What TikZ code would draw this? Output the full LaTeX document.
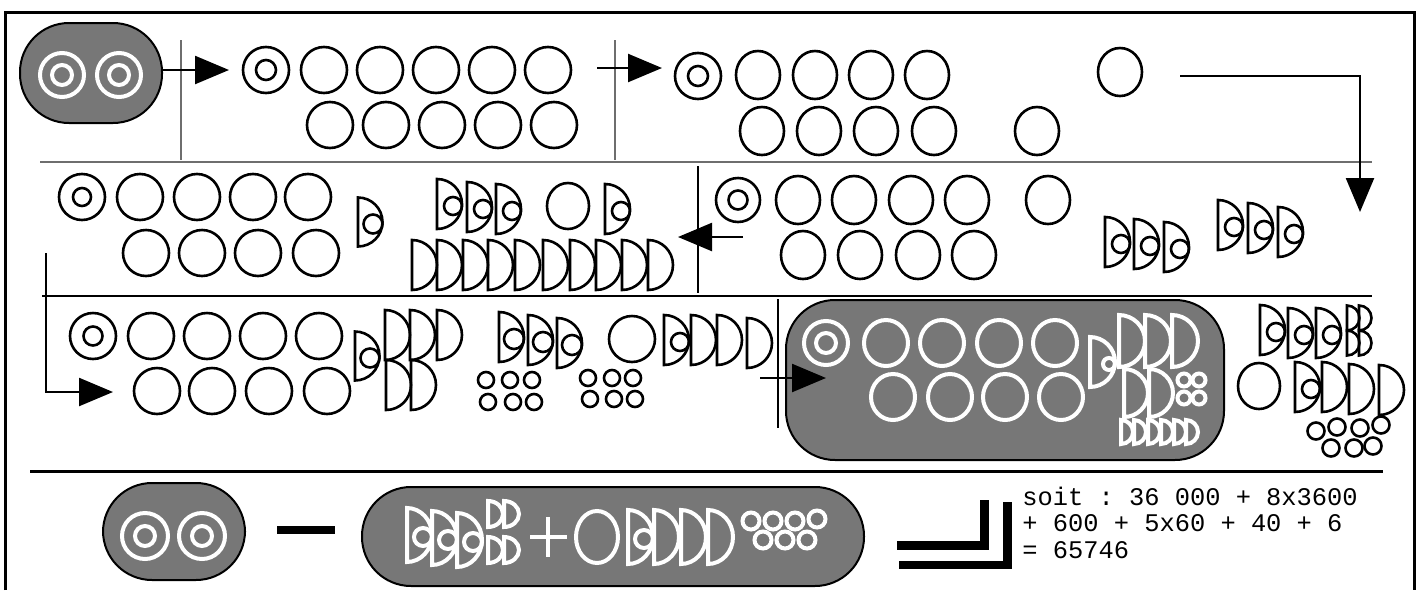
\documentclass[tikz,border=0pt]{standalone}
\usepackage{fontspec}
\setmonofont{Liberation Mono}
\usetikzlibrary{arrows.meta}
\definecolor{boxgray}{RGB}{119,119,119}
\definecolor{divgray}{RGB}{110,110,110}
\newcommand\sgD[5][]{\draw[#1] (#2,#3+#5) -- (#2,#3-#5) arc[start angle=-90,end angle=90,x radius=#4,y radius=#5] -- cycle;}
\newcommand\sgDn[6][]{\sgD[#1]{#2}{#3}{#4}{#5}\draw[#1] (#2+#4-#6,#3+2) circle[radius=#6];}
\newcommand\sgC[4][]{\draw[#1] (#2,#3) circle[radius=#4];}
\newcommand\sgE[5][]{\draw[#1] (#2,#3) ellipse[x radius=#4,y radius=#5];}
\newcommand\sgR[5][]{\draw[#1] (#2,#3) circle[radius=#4] (#2,#3) circle[radius=#5];}
\tikzset{
  sg/.style={line width=1.3pt,black},
  wsg/.style={line width=2pt,white},
  divline/.style={line width=0.8pt,divgray},
  grbox/.style={fill=boxgray,draw=black,line width=1pt,rounded corners=24.5pt},
  conn/.style={line width=1.2pt,-{Triangle[length=17pt,width=14pt]}},
  blk/.style={fill=black,draw=none}
}
\begin{document}
\begin{tikzpicture}[x=0.5pt,y=-0.5pt]
\useasboundingbox (0,0) rectangle (1420,590);
% frame
\draw[line width=1.5pt] (5,590) -- (5,12) -- (1414,12) -- (1414,590);
% dividers
\draw[divline] (40,162) -- (1372,162);
\draw[line width=0.8pt] (42,296) -- (1372,296);
\draw[line width=1.5pt] (30,471) -- (1383,471);
\draw[divline] (181,40) -- (181,160);
\draw[divline] (615,40) -- (615,160);
\draw[line width=0.8pt] (698,166) -- (698,293);
\draw[line width=0.8pt] (778,299) -- (778,428);
% ---------- Row 1 ----------
\draw[grbox] (20,23) rectangle (162,123);
\sgR[wsg]{62}{75}{22}{10}
\sgR[wsg]{119}{75}{22}{10}
\coordinate (a1s) at (162,70); \coordinate (a1e) at (229,70);
\draw[conn] (a1s) -- (a1e);
\sgR[sg]{266}{70}{23}{10}
\foreach \x in {324,380,436,492,548} {\sgC[sg]{\x}{70}{23}}
\foreach \x in {330,386,442,498,554} {\sgC[sg]{\x}{125}{23}}
\coordinate (a2s) at (597,68); \coordinate (a2e) at (662,68);
\draw[conn] (a2s) -- (a2e);
\sgR[sg]{698}{76}{23}{10}
\foreach \x in {758,815,871,927} {\sgE[sg]{\x}{75}{22}{24}}
\foreach \x in {762,819,876,934,1037} {\sgE[sg]{\x}{131}{22}{24}}
\sgE[sg]{1120}{72}{22}{24}
\coordinate (a3s) at (1180,76); \coordinate (a3e) at (1360,212);
\draw[conn] (a3s) -| (a3e);
% ---------- Row 2 ----------
\sgR[sg]{82}{197}{23}{9}
\foreach \x in {140,197,253,308} {\sgC[sg]{\x}{197}{23}}
\foreach \x in {146,202,258,316} {\sgC[sg]{\x}{253}{23}}
\sgDn[sg]{358}{222}{24.5}{24.5}{9.5}
\sgDn[sg]{437}{204}{25}{25}{9}
\sgDn[sg]{467}{207}{25}{25}{9}
\sgDn[sg]{496}{209}{25}{25}{9}
\sgE[sg]{568}{206}{21}{23}
\sgDn[sg]{605}{209}{25}{25}{9}
\foreach \x in {412,437,463,488,515,543,570,596,622,648} {\sgD[sg]{\x}{265}{25}{25}}
\coordinate (a4s) at (743,237); \coordinate (a4e) at (678,237);
\draw[conn] (a4s) -- (a4e);
\sgR[sg]{738}{200}{22}{9.5}
\foreach \x in {798,854,911,967,1048} {\sgE[sg]{\x}{200}{22}{24}}
\foreach \x in {803,860,918,974} {\sgE[sg]{\x}{255}{22}{24}}
\sgDn[sg]{1105}{242}{25}{25}{9}
\sgDn[sg]{1134}{244}{25}{25}{9}
\sgDn[sg]{1164}{247}{25}{25}{9}
\sgDn[sg]{1218}{225}{25}{25}{9}
\sgDn[sg]{1248}{228}{25}{25}{9}
\sgDn[sg]{1278}{232}{25}{25}{9}
\coordinate (a5s) at (46,253); \coordinate (a5e) at (113,392);
\draw[conn] (a5s) |- (a5e);
% ---------- Row 3 ----------
\sgR[sg]{93}{336}{23}{9.5}
\foreach \x in {151,207,263,319} {\sgC[sg]{\x}{336}{23}}
\foreach \x in {157,212,269,327} {\sgC[sg]{\x}{391}{23}}
\sgDn[sg]{355}{356}{24.5}{24.5}{9.5}
\foreach \x in {385,410,437} {\sgD[sg]{\x}{335}{25}{25}}
\foreach \x in {386,411} {\sgD[sg]{\x}{385}{25}{25}}
\sgDn[sg]{499}{337}{25}{25}{10}
\sgDn[sg]{528}{340}{25}{25}{10}
\sgDn[sg]{557}{343}{25}{25}{10}
\foreach \x/\y in {486/380,510/380,532/380,488/402,513/402,534/402,588/378,612/378,633/378,590/399,614/399,635/399} {\sgC[sg]{\x}{\y}{8}}
\sgC[sg]{632}{339}{23}
\sgDn[sg]{664}{340}{25}{25}{9}
\foreach \x/\y in {691/340,717/340,747/343} {\sgD[sg]{\x}{\y}{25}{25}}
\coordinate (a6s) at (760,378); \coordinate (a6e) at (826,378);
\draw[grbox] (786,300) rectangle (1224,460);
\draw[conn] (a6s) -- (a6e);
\sgR[wsg]{826}{343}{22}{10}
\foreach \x in {886,942,999,1055} {\sgE[wsg]{\x}{343}{22}{23}}
\foreach \x in {893,950,1005,1061} {\sgE[wsg]{\x}{397}{22}{23}}
\sgDn[wsg]{1090}{362}{25}{25}{6}
\foreach \x in {1119,1145,1172} {\sgD[wsg]{\x}{341}{26}{26}}
\foreach \x in {1124,1149} {\sgD[wsg]{\x}{393}{24}{24}}
\foreach \x/\y in {1184/380,1199/380,1184/398,1199/398} {\sgC[wsg]{\x}{\y}{6.5}}
\foreach \x in {1121,1134,1148,1161,1174,1186} {\sgD[wsg]{\x}{432}{12}{12}}
\sgDn[sg]{1260}{330}{25}{25}{9}
\sgDn[sg]{1288}{333}{25}{25}{9}
\sgDn[sg]{1316}{333}{25}{25}{9}
\foreach \x/\y in {1347/318,1359/318,1347/343,1359/343} {\sgD[sg]{\x}{\y}{12.5}{12.5}}
\sgE[sg]{1259}{386}{21}{23}
\sgDn[sg]{1295}{387}{25}{25}{9}
\foreach \x/\y in {1322/387,1349/389,1379/390} {\sgD[sg]{\x}{\y}{25}{25}}
\foreach \x/\y in {1316/431,1337/427,1360/428,1381/425,1331/448,1354/448,1373/446} {\sgC[sg]{\x}{\y}{8.5}}
% ---------- Row 4 ----------
\draw[grbox] (103,483) rectangle (245,580);
\sgR[wsg]{145}{536}{23}{10}
\sgR[wsg]{202}{536}{23}{10}
\fill[blk] (277,526) rectangle (335,534);
\draw[grbox] (362,487) rectangle (864,586);
\sgDn[wsg]{407}{535}{25}{27}{9}
\sgDn[wsg]{432}{538}{25}{27}{9}
\sgDn[wsg]{457}{540}{25}{27}{9}
\foreach \x/\y in {488/514,504/514,488/550,504/550} {\sgD[wsg]{\x}{\y}{15}{13}}
\draw[wsg] (530,537) -- (567,537) (548,517) -- (548,557);
\sgE[wsg]{597}{537}{21}{26}
\sgDn[wsg]{628}{537}{25}{27}{9}
\foreach \x in {654,681,708} {\sgD[wsg]{\x}{537}{25}{27}}
\foreach \x/\y in {751/521,773/521,795/521,817/519,763/540,785/540,807/540} {\sgC[wsg]{\x}{\y}{8.5}}
\fill[blk] (980,500) rectangle (989,550);
\fill[blk] (897,541) rectangle (989,550);
\fill[blk] (1003,502) rectangle (1012,569);
\fill[blk] (899,561) rectangle (1012,569);
\node[anchor=base west,inner sep=0pt,font=\ttfamily\fontsize{12.7}{13.25}\selectfont] (txt) at (1022,505)
  {\begin{tabular}[t]{@{}l@{}}soit : 36 000 + 8x3600\\+ 600 + 5x60 + 40 + 6\\= 65746\end{tabular}};
\end{tikzpicture}
\end{document}
